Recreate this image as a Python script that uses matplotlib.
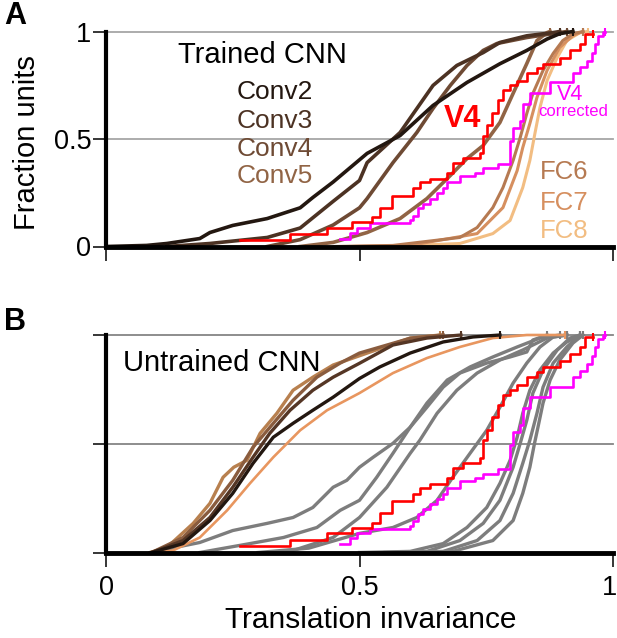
import matplotlib
matplotlib.use("Agg")
import matplotlib.pyplot as plt
from matplotlib.transforms import ScaledTranslation

plt.rcParams['font.family'] = ['Liberation Sans', 'DejaVu Sans']

# ---- panel A: trained CNN ----
conv2_x = [0.0, 0.08, 0.12, 0.185, 0.205, 0.25, 0.318, 0.383, 0.408, 0.448, 0.515, 0.58, 0.645, 0.712, 0.777, 0.83, 0.87, 0.895, 0.921]
conv2_y = [0.0, 0.005, 0.014, 0.037, 0.065, 0.098, 0.13, 0.18, 0.228, 0.30, 0.433, 0.516, 0.656, 0.763, 0.85, 0.912, 0.965, 0.99, 1.0]
conv3_x = [0.12, 0.205, 0.318, 0.383, 0.448, 0.50, 0.515, 0.58, 0.645, 0.692, 0.744, 0.777, 0.83, 0.882, 0.895]
conv3_y = [0.0, 0.014, 0.042, 0.086, 0.21, 0.307, 0.39, 0.53, 0.749, 0.842, 0.902, 0.949, 0.98, 0.995, 1.0]
conv4_x = [0.318, 0.383, 0.448, 0.50, 0.515, 0.566, 0.613, 0.645, 0.679, 0.712, 0.744, 0.771, 0.83, 0.895, 0.909]
conv4_y = [0.0, 0.032, 0.10, 0.18, 0.223, 0.39, 0.53, 0.642, 0.749, 0.842, 0.912, 0.944, 0.972, 0.995, 1.0]
conv5_x = [0.383, 0.448, 0.515, 0.58, 0.633, 0.679, 0.712, 0.744, 0.777, 0.803, 0.83, 0.85, 0.87, 0.876]
conv5_y = [0.0, 0.019, 0.065, 0.13, 0.223, 0.33, 0.409, 0.47, 0.577, 0.712, 0.851, 0.958, 0.995, 1.0]
fc6_x = [0.45, 0.566, 0.698, 0.732, 0.763, 0.783, 0.803, 0.817, 0.83, 0.842, 0.862, 0.882, 0.901, 0.921, 0.941]
fc6_y = [0.0, 0.005, 0.042, 0.088, 0.181, 0.274, 0.40, 0.507, 0.619, 0.712, 0.819, 0.898, 0.958, 0.99, 1.0]
fc7_x = [0.48, 0.60, 0.732, 0.783, 0.811, 0.822, 0.836, 0.85, 0.87, 0.895, 0.921, 0.941]
fc7_y = [0.0, 0.005, 0.06, 0.181, 0.353, 0.46, 0.572, 0.693, 0.819, 0.926, 0.981, 1.0]
fc8_x = [0.55, 0.698, 0.763, 0.797, 0.822, 0.836, 0.846, 0.856, 0.87, 0.89, 0.909, 0.935, 0.95]
fc8_y = [0.0, 0.014, 0.06, 0.121, 0.274, 0.40, 0.526, 0.647, 0.772, 0.879, 0.958, 0.995, 1.0]

# ---- monkey V4 (same data in both panels), step CDFs ----
v4_x = [0.264, 0.363, 0.436, 0.485, 0.525, 0.54, 0.564, 0.606, 0.619, 0.639, 0.672, 0.684, 0.704, 0.738,
        0.744, 0.751, 0.761, 0.773, 0.783, 0.797, 0.811, 0.83, 0.85, 0.862, 0.895, 0.915, 0.935, 0.945, 0.96]
v4_y = [0.028, 0.058, 0.088, 0.112, 0.135, 0.18, 0.237, 0.27, 0.298, 0.316, 0.344, 0.39, 0.41, 0.433,
        0.516, 0.563, 0.623, 0.68, 0.726, 0.749, 0.772, 0.805, 0.828, 0.851, 0.879, 0.912, 0.944, 0.99, 0.99]
v4c_x = [0.462, 0.481, 0.495, 0.521, 0.60, 0.606, 0.615, 0.625, 0.639, 0.653, 0.665, 0.672, 0.698, 0.728,
         0.744, 0.773, 0.797, 0.803, 0.817, 0.822, 0.836, 0.876, 0.921, 0.935, 0.949, 0.959, 0.964, 0.97, 0.98, 0.985]
v4c_y = [0.037, 0.065, 0.088, 0.107, 0.121, 0.144, 0.177, 0.20, 0.223, 0.247, 0.27, 0.298, 0.33, 0.344,
         0.363, 0.386, 0.493, 0.553, 0.586, 0.665, 0.716, 0.763, 0.805, 0.833, 0.865, 0.902, 0.944, 0.981, 1.0, 1.0]

# ---- panel B: untrained CNN ----
ub_black_x = [0.09, 0.152, 0.205, 0.25, 0.29, 0.33, 0.369, 0.408, 0.448, 0.50, 0.54, 0.60, 0.665, 0.724, 0.777]
ub_black_y = [0.0, 0.041, 0.147, 0.272, 0.41, 0.53, 0.594, 0.654, 0.714, 0.80, 0.853, 0.917, 0.968, 0.991, 1.0]
ub_dark_x = [0.09, 0.152, 0.205, 0.25, 0.29, 0.323, 0.363, 0.408, 0.448, 0.50, 0.566, 0.633, 0.70]
ub_dark_y = [0.0, 0.055, 0.161, 0.30, 0.438, 0.548, 0.654, 0.746, 0.806, 0.87, 0.954, 0.986, 1.0]
ub_mid_x = [0.09, 0.152, 0.205, 0.25, 0.29, 0.33, 0.369, 0.416, 0.462, 0.50, 0.60, 0.665]
ub_mid_y = [0.0, 0.069, 0.194, 0.332, 0.484, 0.594, 0.70, 0.806, 0.871, 0.917, 0.985, 1.0]
ub_light_x = [0.087, 0.12, 0.172, 0.205, 0.231, 0.252, 0.278, 0.304, 0.337, 0.369, 0.408, 0.448, 0.487, 0.60, 0.659]
ub_light_y = [0.0, 0.023, 0.134, 0.226, 0.346, 0.392, 0.424, 0.548, 0.64, 0.746, 0.806, 0.862, 0.894, 0.986, 1.0]
ub_orange_x = [0.10, 0.132, 0.185, 0.239, 0.284, 0.33, 0.383, 0.436, 0.50, 0.566, 0.633, 0.698, 0.763, 0.83, 0.905]
ub_orange_y = [0.0, 0.009, 0.069, 0.194, 0.318, 0.438, 0.562, 0.654, 0.733, 0.825, 0.894, 0.945, 0.986, 1.0, 1.0]

gray1_x = [0.087, 0.185, 0.25, 0.318, 0.369, 0.408, 0.448, 0.475, 0.50, 0.527, 0.566, 0.60, 0.633, 0.673, 0.718, 0.763, 0.811, 0.856, 0.895]
gray1_y = [0.0, 0.046, 0.101, 0.134, 0.161, 0.207, 0.30, 0.332, 0.392, 0.438, 0.502, 0.576, 0.687, 0.793, 0.853, 0.899, 0.945, 0.986, 1.0]
gray2_x = [0.185, 0.284, 0.35, 0.416, 0.462, 0.50, 0.534, 0.566, 0.60, 0.633, 0.665, 0.698, 0.751, 0.797, 0.83, 0.842, 0.87]
gray2_y = [0.0, 0.041, 0.069, 0.115, 0.194, 0.24, 0.346, 0.456, 0.576, 0.668, 0.76, 0.825, 0.871, 0.899, 0.922, 0.977, 1.0]
gray3_x = [0.357, 0.448, 0.50, 0.554, 0.60, 0.619, 0.653, 0.692, 0.732, 0.777, 0.822, 0.87, 0.909]
gray3_y = [0.0, 0.069, 0.161, 0.30, 0.456, 0.516, 0.64, 0.746, 0.825, 0.885, 0.931, 0.986, 1.0]
gray4_x = [0.30, 0.40, 0.50, 0.566, 0.613, 0.653, 0.684, 0.718, 0.751, 0.777, 0.803, 0.83, 0.856, 0.882, 0.909]
gray4_y = [0.0, 0.02, 0.088, 0.115, 0.161, 0.24, 0.346, 0.456, 0.562, 0.668, 0.779, 0.871, 0.945, 0.991, 1.0]
gray5_x = [0.50, 0.60, 0.665, 0.712, 0.751, 0.777, 0.797, 0.811, 0.822, 0.836, 0.856, 0.882, 0.909, 0.935]
gray5_y = [0.0, 0.005, 0.041, 0.115, 0.207, 0.318, 0.424, 0.53, 0.64, 0.746, 0.839, 0.917, 0.968, 1.0]
gray6_x = [0.55, 0.633, 0.698, 0.744, 0.777, 0.803, 0.817, 0.83, 0.842, 0.862, 0.89, 0.915, 0.935]
gray6_y = [0.0, 0.005, 0.055, 0.134, 0.24, 0.392, 0.502, 0.608, 0.733, 0.839, 0.931, 0.986, 1.0]
gray7_x = [0.58, 0.665, 0.732, 0.777, 0.803, 0.822, 0.836, 0.85, 0.862, 0.882, 0.909, 0.935]
gray7_y = [0.0, 0.005, 0.055, 0.147, 0.272, 0.41, 0.516, 0.64, 0.76, 0.871, 0.945, 1.0]
gray8_x = [0.60, 0.684, 0.763, 0.803, 0.822, 0.836, 0.845, 0.852, 0.862, 0.876, 0.895, 0.921, 0.941]
gray8_y = [0.0, 0.005, 0.055, 0.147, 0.272, 0.392, 0.50, 0.576, 0.687, 0.793, 0.885, 0.963, 1.0]

ticks = [0, 0.5, 1]
tick_labels = ['0', '0.5', '1']

C_CONV2 = '#231710'
C_CONV3 = '#4c3223'
C_CONV4 = '#6e4a34'
C_CONV5 = '#916445'
C_FC6 = '#b67a52'
C_FC7 = '#d68f5f'
C_FC8 = '#f2bd82'
C_RED = '#ff0000'
C_MAG = '#ff00ff'
C_GRAY = '#7d7d7d'

W, H = 617, 638
fig = plt.figure(figsize=(W / 100, H / 100), dpi=100)


def px_axes(left, top, right, bottom):
    return fig.add_axes([left / W, 1 - bottom / H, (right - left) / W, (bottom - top) / H])


def style_axes(ax, grid_color):
    ax.set_xlim(0, 1)
    ax.set_ylim(0, 1)
    for s in ['top', 'right']:
        ax.spines[s].set_visible(False)
    ax.spines['left'].set_linewidth(3.0)
    ax.spines['bottom'].set_linewidth(3.5)
    ax.set_xticks(ticks)
    ax.set_yticks(ticks)
    ax.tick_params(axis='y', direction='out', length=9.5, width=1.1, pad=1, labelsize=19.5)
    ax.tick_params(axis='x', direction='out', length=10, width=1.1, pad=6, labelsize=19.5)
    for yv in [0.5, 1.0]:
        ax.axhline(yv, color=grid_color, lw=1.3, zorder=0, clip_on=False)


def curve(ax, x, y, color, lw, **kw):
    ax.plot(x, y, color=color, lw=lw, clip_on=False, solid_joinstyle='round',
            marker='|', markevery=[len(x) - 1], ms=6, mew=1.5, **kw)


# ---------------- panel A ----------------
axA = px_axes(106, 31.5, 613, 246.5)
style_axes(axA, '#a6a6a6')
axA.set_yticklabels(tick_labels)
axA.set_xticklabels([])

curve(axA, fc8_x, fc8_y, C_FC8, 2.2)
curve(axA, fc7_x, fc7_y, C_FC7, 2.2)
curve(axA, fc6_x, fc6_y, C_FC6, 2.2)
curve(axA, conv5_x, conv5_y, C_CONV5, 2.6)
curve(axA, conv4_x, conv4_y, C_CONV4, 2.6)
curve(axA, conv3_x, conv3_y, C_CONV3, 2.6)
curve(axA, conv2_x, conv2_y, C_CONV2, 2.6)
curve(axA, v4c_x, v4c_y, C_MAG, 1.9, drawstyle='steps-post')
curve(axA, v4_x, v4_y, C_RED, 1.9, drawstyle='steps-post')

axA.text(0.308, 0.893, 'Trained CNN', fontsize=21, ha='center', va='center')
for lab, yy, col in [('Conv2', 0.717, C_CONV2), ('Conv3', 0.582, C_CONV3),
                     ('Conv4', 0.452, C_CONV4), ('Conv5', 0.327, C_CONV5)]:
    axA.text(0.408, yy, lab, fontsize=19, ha='right', va='center', color=col)
for lab, yy, col in [('FC6', 0.346, C_FC6), ('FC7', 0.202, C_FC7), ('FC8', 0.072, C_FC8)]:
    axA.text(0.856, yy, lab, fontsize=18.5, ha='left', va='center', color=col)
axA.text(0.704, 0.592, 'V4', fontsize=22, fontweight='bold', ha='center', va='center', color=C_RED)
axA.text(0.915, 0.68, 'V4', fontsize=15.5, ha='center', va='baseline', color=C_MAG)
axA.text(0.921, 0.662, 'corrected', fontsize=12, ha='center', va='top', color=C_MAG)

# ---------------- panel B ----------------
axB = px_axes(106, 335, 613, 552.5)
style_axes(axB, '#858585')
axB.set_yticklabels([])
axB.set_xticklabels(tick_labels)
# the "1" label sits against the right edge of the figure
last = axB.get_xticklabels()[-1]
last.set_transform(last.get_transform() + ScaledTranslation(-0.04, 0, fig.dpi_scale_trans))

for gx, gy in [(gray1_x, gray1_y), (gray2_x, gray2_y), (gray3_x, gray3_y), (gray4_x, gray4_y),
               (gray5_x, gray5_y), (gray6_x, gray6_y), (gray7_x, gray7_y), (gray8_x, gray8_y)]:
    curve(axB, gx, gy, C_GRAY, 2.4)
curve(axB, ub_orange_x, ub_orange_y, '#e8965f', 1.9)
curve(axB, ub_light_x, ub_light_y, '#b8804f', 2.4)
curve(axB, ub_mid_x, ub_mid_y, '#8a5c3e', 2.4)
curve(axB, ub_dark_x, ub_dark_y, '#553625', 2.4)
curve(axB, ub_black_x, ub_black_y, C_CONV2, 2.4)
curve(axB, v4c_x, v4c_y, C_MAG, 1.9, drawstyle='steps-post')
curve(axB, v4_x, v4_y, C_RED, 1.9, drawstyle='steps-post')

axB.text(0.034, 0.871, 'Untrained CNN', fontsize=21, ha='left', va='center')

# labels and panel letters
fig.text(27 / W, 1 - 143 / H, 'Fraction units', rotation=90, fontsize=21, ha='center', va='center')
fig.text(371 / W, 1 - 620 / H, 'Translation invariance', fontsize=21.5, ha='center', va='center')
fig.text(15 / W, 1 - 16 / H, 'A', fontsize=22, fontweight='bold', ha='center', va='center')
fig.text(15 / W, 1 - 322 / H, 'B', fontsize=22, fontweight='bold', ha='center', va='center')

fig.savefig('out.png', dpi=100)
